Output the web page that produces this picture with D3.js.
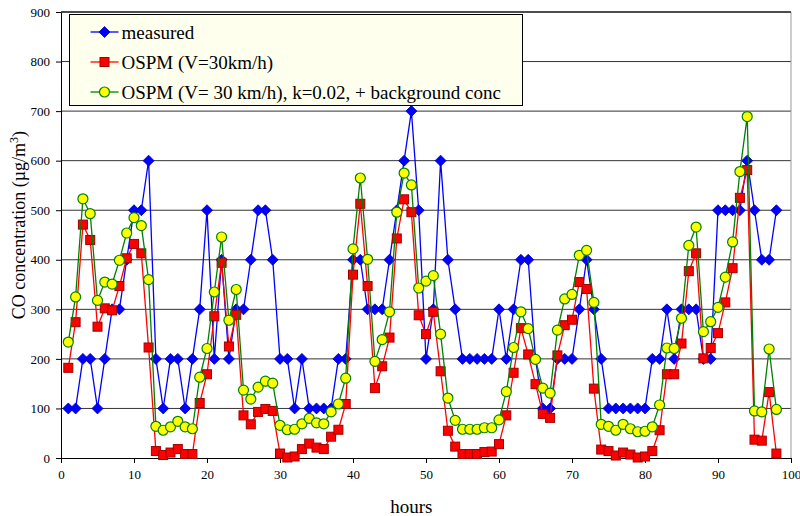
<!DOCTYPE html>
<html lang="en">
<head>
    <meta charset="UTF-8">
    <script src="https://d3js.org/d3.v7.min.js"></script>
    <title>CO concentration</title>
    <style>
        body { margin: 0; background: #fff; }
        text { font-family: "Liberation Serif", "Times New Roman", serif; fill: #000; }
        .axis path, .axis line { stroke: #000; }
    </style>
</head>
<body>
    <div id="chart"></div>
    <script>
        // Data (hours 1..98)
        const hours = d3.range(1, 99);
        const measured = [100, 100, 200, 200, 100, 200, 300, 300, 400, 500,
            500, 600, 200, 100, 200, 200, 100, 200, 300, 500,
            200, 400, 200, 300, 300, 400, 500, 500, 400, 200,
            200, 100, 200, 100, 100, 100, 100, 200, 200, 400,
            400, 300, 300, 300, 400, 500, 600, 700, 500, 200,
            300, 600, 400, 300, 200, 200, 200, 200, 200, 300,
            200, 300, 400, 400, 200, 100, 100, 200, 200, 200,
            300, 400, 300, 200, 100, 100, 100, 100, 100, 100,
            200, 200, 300, 200, 300, 300, 300, 200, 200, 500,
            500, 500, 500, 600, 500, 400, 400, 500];
        const ospm = [182, 274, 471, 440, 265, 302, 298, 347, 403, 432,
            413, 223, 14, 6, 11, 18, 8, 8, 111, 169,
            286, 394, 225, 289, 86, 68, 93, 99, 95, 9,
            1, 3, 18, 29, 21, 18, 43, 57, 109, 370,
            513, 347, 141, 185, 243, 443, 522, 496, 288, 250,
            295, 175, 55, 23, 8, 8, 8, 12, 13, 28,
            86, 172, 262, 209, 149, 89, 81, 207, 268, 279,
            355, 341, 140, 17, 14, 5, 11, 7, 1, 3,
            14, 56, 169, 169, 231, 377, 413, 201, 222, 252,
            314, 383, 525, 581, 37, 35, 133, 9];
        const ospmBg = [234, 325, 523, 493, 318, 355, 351, 399, 454, 485,
            469, 360, 64, 56, 63, 74, 63, 59, 163, 221,
            335, 446, 278, 340, 137, 119, 143, 155, 151, 66,
            57, 58, 69, 80, 71, 69, 93, 109, 161, 422,
            565, 401, 195, 239, 295, 496, 575, 551, 343, 357,
            368, 250, 121, 76, 58, 58, 58, 61, 61, 77,
            134, 223, 295, 261, 199, 141, 131, 258, 321, 330,
            409, 419, 314, 68, 64, 56, 68, 59, 53, 54,
            63, 107, 222, 221, 282, 429, 466, 255, 275, 304,
            365, 436, 578, 689, 95, 93, 220, 98];
        const seriesNames = ["measured", "OSPM (V=30km/h)", "OSPM (V= 30 km/h), k=0.02, + background conc"];
        const xTicks = d3.range(0, 101, 10);
        const yTicks = d3.range(0, 901, 100);

        const width = 800;
        const height = 516;
        const margin = { top: 12, right: 9, bottom: 58, left: 61 };
        const serif = '"Liberation Serif", "Times New Roman", serif';

        const svg = d3.select("#chart")
            .append("svg")
            .attr("width", width)
            .attr("height", height);

        const x = d3.scaleLinear()
            .domain([0, 100])
            .range([margin.left, width - margin.right]);

        const y = d3.scaleLinear()
            .domain([0, 900])
            .range([height - margin.bottom, margin.top]);

        // Gridlines
        svg.append("g")
            .selectAll("line")
            .data(yTicks.slice(1))
            .join("line")
            .attr("x1", x(0))
            .attr("x2", x(100))
            .attr("y1", d => y(d))
            .attr("y2", d => y(d))
            .attr("stroke", "#333")
            .attr("stroke-width", 1);

        // Right border of the plot area
        svg.append("line")
            .attr("x1", x(100)).attr("x2", x(100))
            .attr("y1", y(0)).attr("y2", y(900))
            .attr("stroke", "#999");

        // Axes
        svg.append("g")
            .attr("class", "axis")
            .attr("transform", `translate(0,${y(0)})`)
            .call(d3.axisBottom(x).tickValues(xTicks).tickSize(5).tickPadding(7).tickSizeOuter(0))
            .attr("font-family", serif)
            .attr("font-size", 13);

        svg.append("g")
            .attr("class", "axis")
            .attr("transform", `translate(${x(0)},0)`)
            .call(d3.axisLeft(y).tickValues(yTicks).tickSize(5).tickPadding(6).tickSizeOuter(0))
            .attr("font-family", serif)
            .attr("font-size", 13);

        const series = [
            { name: seriesNames[0], values: measured, line: "#0000ff", shape: "diamond" },
            { name: seriesNames[1], values: ospm, line: "#ff0000", shape: "square" },
            { name: seriesNames[2], values: ospmBg, line: "#008000", shape: "circle" }
        ];

        const lineGen = d3.line()
            .x((d, i) => x(hours[i]))
            .y(d => y(d));

        function drawMarker(g, shape) {
            if (shape === "diamond") {
                g.append("path")
                    .attr("d", "M0,-5.5L5.5,0L0,5.5L-5.5,0Z")
                    .attr("fill", "#0000ff")
                    .attr("stroke", "#0000aa")
                    .attr("stroke-width", 0.8);
            } else if (shape === "square") {
                g.append("rect")
                    .attr("x", -4.5).attr("y", -4.5)
                    .attr("width", 9).attr("height", 9)
                    .attr("fill", "#ff0000")
                    .attr("stroke", "#a00000")
                    .attr("stroke-width", 1);
            } else {
                g.append("circle")
                    .attr("r", 5)
                    .attr("fill", "#ffff00")
                    .attr("stroke", "#008000")
                    .attr("stroke-width", 1.2);
            }
        }

        series.forEach(s => {
            svg.append("path")
                .datum(s.values)
                .attr("fill", "none")
                .attr("stroke", s.line)
                .attr("stroke-width", 1.3)
                .attr("d", lineGen);

            svg.append("g")
                .selectAll("g")
                .data(s.values)
                .join("g")
                .attr("transform", (d, i) => `translate(${x(hours[i])},${y(d)})`)
                .each(function () { drawMarker(d3.select(this), s.shape); });
        });

        // Top border
        svg.append("line")
            .attr("x1", x(0)).attr("x2", x(100))
            .attr("y1", y(900)).attr("y2", y(900))
            .attr("stroke", "#000");

        // Legend
        const legend = svg.append("g").attr("transform", "translate(69.5,14.5)");
        legend.append("rect")
            .attr("width", 453).attr("height", 91)
            .attr("fill", "#ffffee")
            .attr("stroke", "#000");

        series.forEach((s, i) => {
            const row = legend.append("g").attr("transform", `translate(0,${17.5 + i * 30})`);
            row.append("line")
                .attr("x1", 21).attr("x2", 49)
                .attr("stroke", s.line)
                .attr("stroke-width", 1.3);
            drawMarker(row.append("g").attr("transform", "translate(35,0)"), s.shape);
            row.append("text")
                .attr("x", 52)
                .attr("dy", "0.35em")
                .style("font-size", "19px")
                .text(s.name);
        });

        // Axis titles
        svg.append("text")
            .attr("x", x(48))
            .attr("y", 513)
            .attr("text-anchor", "middle")
            .style("font-size", "19px")
            .text("hours");

        svg.append("text")
            .attr("transform", `translate(25,${y(470)}) rotate(-90)`)
            .attr("text-anchor", "middle")
            .style("font-size", "18px")
            .html(`CO concentration (µg/m<tspan baseline-shift="super" font-size="12px">3</tspan>)`);
    </script>
</body>
</html>
